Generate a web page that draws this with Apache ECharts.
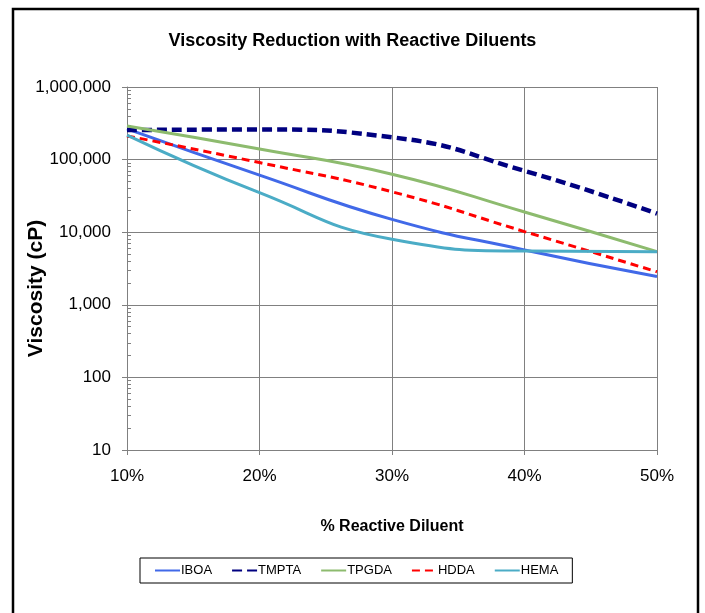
<!DOCTYPE html>
<html>
<head>
<meta charset="utf-8">
<script src="https://cdn.jsdelivr.net/npm/echarts@6/dist/echarts.min.js"></script>
<style>
html,body{margin:0;padding:0;background:#fff;}
#chart{width:705px;height:613px;}
</style>
</head>
<body>
<div id="chart"></div>
<script>
const diluentPct = [10, 20, 30, 40, 50];
const iboa  = [265000, 61000, 15000, 5700, 2450];
const tmpta = [255000, 260000, 203000, 70000, 18000];
const tpgda = [290000, 140000, 63000, 19000, 5400];
const hdda  = [212000, 91000, 36000, 10200, 2850];
const hema  = [218000, 35000, 8000, 5500, 5400];
const yTicks = [10, 100, 1000, 10000, 100000, 1000000];

const FONT = "'Liberation Sans',Arial,sans-serif";

function pairs(vals){ return diluentPct.map((x,i)=>[x, vals[i]]); }

const chart = echarts.init(document.getElementById('chart'), null, {renderer:'canvas'});
chart.setOption({
  animation:false,
  backgroundColor:'#fff',
  textStyle:{fontFamily:FONT},
  title:{
    text:'Viscosity Reduction with Reactive Diluents',
    left:'center', top:27,
    textStyle:{fontFamily:FONT, fontWeight:'bold', fontSize:18, color:'#000'}
  },
  graphic:[{
    type:'rect', shape:{x:13, y:9, width:685, height:640},
    style:{fill:'none', stroke:'#000', lineWidth:2.5}, silent:true
  }],
  grid:{left:127, right:48, top:87, bottom:163, outerBoundsMode:'none', containLabel:false},
  legend:{
    top:558, left:140,
    padding:[6,14,6,14],
    borderColor:'#000', borderWidth:1,
    itemWidth:25, itemHeight:14, itemGap:19,
    itemStyle:{opacity:0},
    textStyle:{fontFamily:FONT, fontSize:13, color:'#000', padding:[0,0,0,-4]},
    data:['IBOA','TMPTA','TPGDA','HDDA','HEMA']
  },
  xAxis:{
    type:'value', min:10, max:50, interval:10,
    name:'% Reactive Diluent', nameLocation:'middle', nameGap:69, nameMoveOverlap:false,
    nameTextStyle:{fontFamily:FONT, fontWeight:'bold', fontSize:16, color:'#000'},
    axisLine:{show:true, lineStyle:{color:'#808080', width:1}},
    axisTick:{show:true, length:5, lineStyle:{color:'#808080'}},
    axisLabel:{formatter:v=>v+'%', fontFamily:FONT, fontSize:17, color:'#000', margin:18},
    splitLine:{show:true, lineStyle:{color:'#808080', width:1}}
  },
  yAxis:{
    type:'log', logBase:10, min:10, max:1000000,
    name:'Viscosity (cP)', nameLocation:'middle', nameGap:80, nameRotate:90, nameMoveOverlap:false,
    nameTextStyle:{fontFamily:FONT, fontWeight:'bold', fontSize:21, color:'#000', padding:[0,40,0,0]},
    axisLine:{show:true, lineStyle:{color:'#808080', width:1}},
    axisTick:{show:true, inside:true, length:-5, lineStyle:{color:'#808080'}},
    minorTick:{show:true, splitNumber:9, length:4, lineStyle:{color:'#808080'}},
    axisLabel:{formatter:v=>Number(v).toLocaleString('en-US'), fontFamily:FONT, fontSize:17, color:'#000', margin:16},
    splitLine:{show:true, lineStyle:{color:'#808080', width:1}}
  },
  series:[
    {name:'IBOA', type:'line', smooth:true, symbol:'none', data:pairs(iboa),
     lineStyle:{color:'#4169E8', width:3}, itemStyle:{color:'#4169E8'}},
    {name:'TMPTA', type:'line', smooth:true, symbol:'none', data:pairs(tmpta),
     lineStyle:{color:'#000080', width:4.5, type:[10,5]}, itemStyle:{color:'#000080'}},
    {name:'TPGDA', type:'line', smooth:true, symbol:'none', data:pairs(tpgda),
     lineStyle:{color:'#8DBB6E', width:3}, itemStyle:{color:'#8DBB6E'}},
    {name:'HDDA', type:'line', smooth:true, symbol:'none', data:pairs(hdda),
     lineStyle:{color:'#FF0000', width:3, type:[8,5]}, itemStyle:{color:'#FF0000'}},
    {name:'HEMA', type:'line', smooth:true, symbol:'none', data:pairs(hema),
     lineStyle:{color:'#4BACC6', width:3}, itemStyle:{color:'#4BACC6'}}
  ]
});
</script>
</body>
</html>
